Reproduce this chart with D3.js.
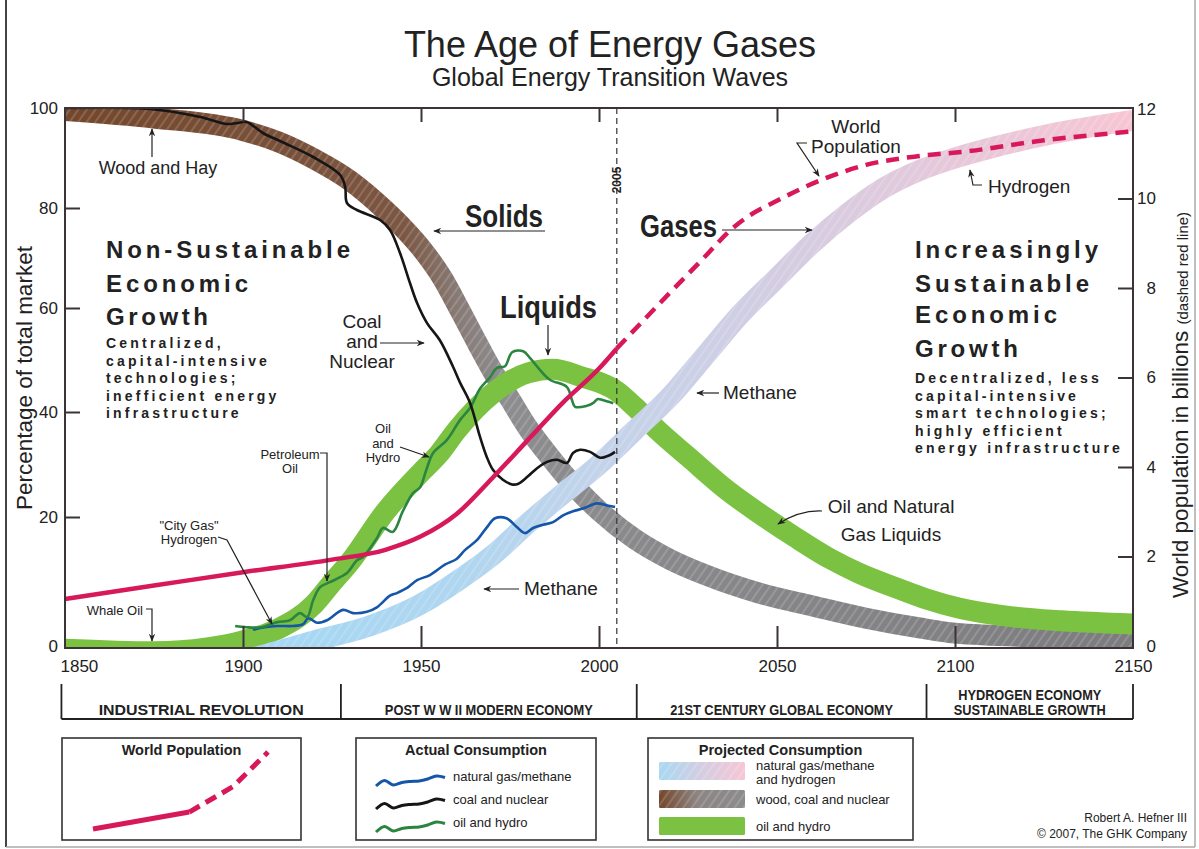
<!DOCTYPE html>
<html>
<head>
<meta charset="utf-8">
<script src="https://cdn.jsdelivr.net/npm/d3@7"></script>
<style>
  body { margin: 0; background: #fff; }
  svg { display: block; font-family: "Liberation Sans", Arial, Helvetica, sans-serif; }
</style>
</head>
<body>
<svg id="chart" width="1199" height="849"></svg>
<script>
// ---- projected consumption bands (share of total market, %) ----
const solidsYears = [1850,1875,1900,1910,1920,1930,1940,1945,1950,1956,1961,1966,1970,1975,1980,1985,1990,1995,2000,2010,2020,2030,2045,2060,2075,2090,2100,2125,2150];
const solidsPct   = [99.5,98,95.5,93.2,89.8,85.5,79.5,76,72,66,59.5,53,48,42.5,37,32.5,28.3,24.5,21.2,16.6,13.4,11,8.2,6.2,4.3,2.8,2,1.4,1.2];

const liquidsYears = [1850,1875,1890,1900,1910,1920,1925,1930,1940,1950,1955,1960,1970,1980,1987,1995,2005,2010,2017,2025,2036,2045,2055,2065,2073,2085,2092,2101,2115,2130,2150];
const liquidsPct   = [-0.5,-0.9,-0.3,0.8,2.7,6.5,9.8,13,21,28.5,32,36.5,43.5,47.5,48.2,46.8,44,41,36.2,31.5,25.1,20.7,16.9,13.5,11.3,8.7,7.3,5.9,4.6,3.9,3.4];

const gasesYears = [1902,1920,1935,1950,1960,1970,1980,1990,2000,2010,2020,2030,2040,2050,2060,2070,2080,2090,2100,2110,2125,2150];
const gasesPct   = [-2,0.8,3,6.5,10,14,19,24.5,30,36.5,43,51,59,66,73,79,84,87.5,90,92,94.5,97.5];

// ---- actual consumption (%) ----
const coalYears = [1850,1874,1888,1895.5,1898.3,1901,1905.6,1911,1919.7,1927.3,1928.7,1929.2,1932,1938.5,1941.3,1944.1,1946.9,1948.9,1951.7,1955.3,1959,1961,1963.8,1966.6,1968.5,1970.2,1973,1975.6,1977.2,1979.8,1982.6,1985.4,1988.2,1991,1992.7,1994.7,1997.5,2000.3,2003.1,2004.5];
const coalPct   = [100,99.8,98.2,96.8,97,97.2,95,93.2,90.2,86.6,84.2,81,79.6,77.6,75.6,71,65,61,57.1,53.8,48.7,45.6,41.7,35.2,31.4,29,27.1,26.2,26.3,27.6,29.3,30.5,30.9,30.3,32.2,32.8,32.4,31.3,31.8,32.4];

const oilYears = [1897.8,1901,1905,1909.6,1913.2,1916,1918,1919.7,1921.6,1924.4,1929.2,1932,1933.7,1937.6,1939.3,1942.1,1944.9,1947.8,1949.7,1951.5,1953.4,1957.3,1961,1963.8,1966.6,1969.4,1971.3,1973.6,1975.6,1978.7,1980.6,1983.4,1986.2,1991,1992.4,1993.3,1996.6,1998.3,1999.7,2001,2004];
const oilPct   = [3.1,2.9,2.9,3.7,4.0,5.1,4.5,7.1,9.1,9.9,11.3,13.3,13.8,16.7,18.3,17.7,21.1,24.6,25.6,29,32.2,34.7,38.5,40.8,44.5,46.7,48.5,48.8,51.5,51.7,50.4,48.1,46.2,44.8,42.3,41,41.2,41.7,42.5,42.3,41.7];

const gasYears = [1902.8,1904.8,1909.6,1914,1916.9,1918.3,1920.8,1923.6,1928.1,1930.9,1934.8,1937.6,1941.3,1943.2,1946.1,1948.9,1952.5,1956.7,1960,1962.4,1965.7,1968.5,1970.8,1974,1977,1979.2,1981.5,1984.3,1987.1,1989.9,1992.7,1995.5,1999.4,2002.2,2004.5];
const gasPct   = [2.5,2.8,3.1,3.1,3.4,4.3,3.6,4.0,5.6,5.1,5.3,6.0,7.8,8.2,9.0,10.2,11,12.6,13.5,14.9,16.4,18.4,19.8,19.8,18.4,17.5,18.3,18.8,19.2,20.3,21.1,21.6,22.6,22.2,21.9];

// ---- world population (billions) ----
const popYears    = [1850,1875,1900,1925,1940,1950,1960,1970,1980,1990,2000,2005];
const popBillions = [1.05,1.35,1.65,1.93,2.15,2.45,2.95,3.75,4.6,5.45,6.2,6.65];
const popProjYears    = [2005,2020,2030,2037,2041,2050,2062,2075,2090,2103,2125,2150];
const popProjBillions = [6.65,7.9,8.72,9.3,9.55,9.95,10.4,10.75,10.95,11.05,11.3,11.5];

// ---- axes, eras, legends ----
const yearTicks = [1850,1900,1950,2000,2050,2100,2150];
const pctTicks = [0,20,40,60,80,100];
const popTicks = [0,2,4,6,8,10,12];
const eraBounds = [1849,1927.5,2010.6,2092,2150];
const eraLabels = [["INDUSTRIAL REVOLUTION"],["POST W W II MODERN ECONOMY"],["21ST CENTURY GLOBAL ECONOMY"],["HYDROGEN ECONOMY","SUSTAINABLE GROWTH"]];
const eraWidths = [[205],[208],[223],[143,152]];
const legendWiggle = [0,0.55,0.1,0.35,0.45,0.5,0.7,1,0.85];
const legendPopSolid = [[0,0],[0.55,0.22]];
const legendPopDashed = [[0.55,0.22],[0.8,0.55],[1,1]];

const svg = d3.select("#chart");
const defs = svg.append("defs");
const plot = {left: 65, right: 1133, top: 108, bottom: 648};
const ink = "#3b3335";

const x = d3.scaleLinear().domain([1850, 2150]).range([plot.left, plot.right]);
const yPct = d3.scaleLinear().domain(pctTicks).range([646, 517, 412, 308, 208, 108]);
const yPop = d3.scaleLinear().domain([0, 12]).range([646, 109]);

const zip = (a, b) => a.map((v, i) => [v, b[i]]);

// gradients + hatch
function hGrad(id, stops, x1 = plot.left, x2 = plot.right) {
    const g = defs.append("linearGradient").attr("id", id)
        .attr("gradientUnits", "userSpaceOnUse")
        .attr("x1", x1).attr("x2", x2).attr("y1", 0).attr("y2", 0);
    stops.forEach(s => g.append("stop").attr("offset", s[0]).attr("stop-color", s[1]));
}
const off = yr => (x(yr) - plot.left) / (plot.right - plot.left);
hGrad("solidsGrad", [[0, "#74472b"], [off(1945), "#7b5642"], [off(1960), "#877a75"], [off(1973), "#8d8c8f"], [1, "#7c7c7f"]]);
hGrad("gasesGrad", [[off(1900), "#a4d8f4"], [off(1960), "#afd6f0"], [off(2000), "#c3d3ea"], [off(2050), "#d3cde2"], [off(2100), "#e6c8da"], [1, "#f7c5d3"]]);
hGrad("legGas", [[0, "#a8d8f2"], [0.5, "#d4cde2"], [1, "#f7c6d4"]], 659, 745);
hGrad("legSolid", [[0, "#74472b"], [0.45, "#8d8584"], [1, "#8b8b8e"]], 659, 745);

const hatch = defs.append("pattern").attr("id", "hatch")
    .attr("patternUnits", "userSpaceOnUse").attr("width", 7).attr("height", 7)
    .attr("patternTransform", "rotate(35)");
hatch.append("line").attr("x1", 1).attr("x2", 1).attr("y1", 0).attr("y2", 7)
    .attr("stroke", "#fff").attr("stroke-width", 0.9).attr("opacity", 0.35);

defs.append("clipPath").attr("id", "plotClip").append("rect")
    .attr("x", plot.left).attr("y", plot.top)
    .attr("width", plot.right - plot.left).attr("height", plot.bottom - plot.top);

const marker = defs.append("marker").attr("id", "arrow")
    .attr("viewBox", "0 0 10 10").attr("refX", 9).attr("refY", 5)
    .attr("markerWidth", 10).attr("markerHeight", 8).attr("markerUnits", "userSpaceOnUse")
    .attr("orient", "auto");
marker.append("path").attr("d", "M0,1 L10,5 L0,9 L3,5 Z").attr("fill", "#222");

// outer frame
svg.append("line").attr("x1", 6).attr("x2", 6).attr("y1", 0).attr("y2", 847).attr("stroke", "#444").attr("stroke-width", 2);
svg.append("line").attr("x1", 6).attr("x2", 1195).attr("y1", 847).attr("y2", 847).attr("stroke", "#aaa").attr("stroke-width", 1.5);
svg.append("line").attr("x1", 1195).attr("x2", 1195).attr("y1", 0).attr("y2", 847).attr("stroke", "#aaa").attr("stroke-width", 1.5);

// titles
svg.append("text").attr("x", 610).attr("y", 57).attr("text-anchor", "middle")
    .attr("font-size", 36).attr("fill", "#222").text("The Age of Energy Gases");
svg.append("text").attr("x", 610).attr("y", 86).attr("text-anchor", "middle")
    .attr("font-size", 25).attr("fill", "#222").text("Global Energy Transition Waves");

// bands
const bandLine = d3.line().x(d => x(d[0])).y(d => yPct(d[1])).curve(d3.curveMonotoneX);
const bands = svg.append("g").attr("clip-path", "url(#plotClip)");
function drawBand(data, paint, hatched) {
    bands.append("path").attr("d", bandLine(data)).attr("fill", "none")
        .attr("stroke", paint).attr("stroke-width", 21);
    if (hatched) {
        bands.append("path").attr("d", bandLine(data)).attr("fill", "none")
            .attr("stroke", "url(#hatch)").attr("stroke-width", 21);
    }
}
drawBand(zip(solidsYears, solidsPct), "url(#solidsGrad)", true);
drawBand(zip(liquidsYears, liquidsPct), "#7cc242", false);
drawBand(zip(gasesYears, gasesPct), "url(#gasesGrad)", true);

// 2005 marker line
svg.append("line").attr("x1", x(2005)).attr("x2", x(2005))
    .attr("y1", plot.top).attr("y2", plot.bottom)
    .attr("stroke", "#333").attr("stroke-width", 1.2).attr("stroke-dasharray", "6,4");
svg.append("text").attr("transform", `translate(${x(2005) + 4},180) rotate(-90)`)
    .attr("text-anchor", "middle").attr("font-size", 12).attr("font-weight", "bold")
    .attr("fill", "#222").text("2005");

// actual consumption lines
const actLine = d3.line().x(d => x(d[0])).y(d => yPct(d[1])).curve(d3.curveCatmullRom.alpha(0.5));
const actual = svg.append("g").attr("clip-path", "url(#plotClip)").attr("fill", "none")
    .attr("stroke-width", 2.6).attr("stroke-linejoin", "round");
actual.append("path").attr("d", actLine(zip(gasYears, gasPct))).attr("stroke", "#1556a8");
actual.append("path").attr("d", actLine(zip(oilYears, oilPct))).attr("stroke", "#2b8540");
actual.append("path").attr("d", actLine(zip(coalYears, coalPct))).attr("stroke", "#161616");

// population
const popLine = d3.line().x(d => x(d[0])).y(d => yPop(d[1])).curve(d3.curveMonotoneX);
svg.append("path").attr("d", popLine(zip(popYears, popBillions)))
    .attr("fill", "none").attr("stroke", "#d7185b").attr("stroke-width", 4.5);
svg.append("path").attr("d", popLine(zip(popProjYears, popProjBillions)))
    .attr("fill", "none").attr("stroke", "#d7185b").attr("stroke-width", 4.5)
    .attr("stroke-dasharray", "13,8");

// plot frame
svg.append("rect").attr("x", plot.left).attr("y", plot.top)
    .attr("width", plot.right - plot.left).attr("height", plot.bottom - plot.top)
    .attr("fill", "none").attr("stroke", ink).attr("stroke-width", 2);

// axes
function styleAxis(g) {
    g.select(".domain").remove();
    g.selectAll("line").attr("stroke", ink).attr("stroke-width", 2);
    g.selectAll("text").attr("font-size", 17).attr("fill", "#222")
        .attr("font-family", '"Liberation Sans", Arial, sans-serif');
}
svg.append("g").attr("transform", `translate(0,${plot.bottom})`)
    .call(d3.axisBottom(x).tickValues(yearTicks.slice(1, -1)).tickSize(-22).tickFormat(""))
    .call(styleAxis);
svg.append("g").attr("transform", `translate(0,${plot.top})`)
    .call(d3.axisTop(x).tickValues(yearTicks.slice(1, -1)).tickSize(-14).tickFormat(""))
    .call(styleAxis);
svg.append("g").attr("transform", `translate(0,${plot.bottom})`)
    .call(d3.axisBottom(x).tickValues(yearTicks).tickSize(0).tickPadding(12).tickFormat(d3.format("d")))
    .call(styleAxis)
    .call(g => g.selectAll(".tick").filter(d => d === 1850).select("text").attr("text-anchor", "start").attr("dx", -5));
svg.append("g").attr("transform", `translate(${plot.left},0)`)
    .call(d3.axisLeft(yPct).tickValues(pctTicks).tickSize(-15).tickPadding(7))
    .call(styleAxis)
    .call(g => g.selectAll(".tick").filter(d => d === 0 || d === 100).select("line").remove());
svg.append("g").attr("transform", `translate(${plot.right},0)`)
    .call(d3.axisRight(yPop).tickValues(popTicks).tickSize(-15).tickPadding(23))
    .call(styleAxis)
    .call(g => g.selectAll("text").attr("text-anchor", "end"))
    .call(g => g.selectAll(".tick").filter(d => d === 0 || d === 12).select("line").remove());

// axis titles
svg.append("text").attr("transform", "translate(32,510) rotate(-90)")
    .attr("font-size", 22.5).attr("fill", "#222").text("Percentage of total market");
const rt = svg.append("text").attr("transform", "translate(1188,598) rotate(-90)")
    .attr("font-size", 22.5).attr("fill", "#222");
rt.append("tspan").text("World population in billions ");
rt.append("tspan").attr("font-size", 15).text("(dashed red line)");

// era bar
const era = svg.append("g").attr("stroke", "#222").attr("stroke-width", 1.8);
era.append("line").attr("x1", x(eraBounds[0])).attr("x2", x(eraBounds[eraBounds.length - 1]))
    .attr("y1", 719).attr("y2", 719);
eraBounds.forEach(b => era.append("line").attr("x1", x(b)).attr("x2", x(b)).attr("y1", 684).attr("y2", 719));
eraLabels.forEach((lines, i) => {
    const cx = (x(eraBounds[i]) + x(eraBounds[i + 1])) / 2;
    lines.forEach((t, j) => {
        svg.append("text").attr("x", cx).attr("y", 715 - (lines.length - 1 - j) * 15)
            .attr("text-anchor", "middle").attr("font-size", 15).attr("font-weight", "bold")
            .attr("fill", "#222").attr("textLength", eraWidths[i][j])
            .attr("lengthAdjust", "spacingAndGlyphs").text(t);
    });
});

// annotations
const ann = svg.append("g").attr("fill", "#222");
function label(lines, xx, y0, size, anchor, lh) {
    lines.forEach((t, i) => ann.append("text").attr("x", xx).attr("y", y0 + i * lh)
        .attr("font-size", size).attr("text-anchor", anchor).text(t));
}
function arrow(pts) {
    svg.append("path").attr("d", d3.line()(pts)).attr("fill", "none")
        .attr("stroke", "#222").attr("stroke-width", 1.2).attr("marker-end", "url(#arrow)");
}
label(["Wood and Hay"], 158, 174, 18, "middle", 0);
arrow([[152, 157], [152, 129]]);

function headline(t, xx, yy, w) {
    ann.append("text").attr("x", xx).attr("y", yy).attr("font-size", 31).attr("font-weight", "bold")
        .attr("textLength", w).attr("lengthAdjust", "spacingAndGlyphs").text(t);
}
headline("Solids", 465, 227, 78);
arrow([[545, 231], [434, 231]]);
headline("Gases", 640, 237, 77);
arrow([[722, 230], [812, 230]]);
headline("Liquids", 500, 318, 97);
arrow([[548, 325], [548, 355]]);

label(["Coal", "and", "Nuclear"], 362, 328, 19, "middle", 20);
arrow([[380, 343], [424, 343]]);
label(["Oil", "and", "Hydro"], 383, 433, 13, "middle", 14.5);
arrow([[400, 447], [429, 457]]);
label(["Petroleum", "Oil"], 290, 459, 13, "middle", 14);
arrow([[320, 453], [327, 453], [327, 581]]);
label(['"City Gas"', "Hydrogen"], 189, 530, 13, "middle", 13.5);
arrow([[218, 537], [227, 540], [272, 624]]);
label(["Whale Oil"], 143, 615, 13, "end", 0);
arrow([[146, 609], [152, 609], [152, 641]]);
label(["Methane"], 524, 595, 19, "start", 0);
arrow([[519, 589], [484, 589]]);
label(["Methane"], 723, 399, 19, "start", 0);
arrow([[719, 393], [697, 393]]);
label(["Oil and Natural", "Gas Liquids"], 891, 513, 19, "middle", 28);
svg.append("path").attr("d", "M822,511 Q800,510 778,524").attr("fill", "none")
    .attr("stroke", "#222").attr("stroke-width", 1.2).attr("marker-end", "url(#arrow)");
label(["World", "Population"], 856, 133, 19, "middle", 20);
arrow([[807, 143], [797, 143], [819, 176]]);
label(["Hydrogen"], 988, 193, 19, "start", 0);
arrow([[982, 185], [973, 185], [970, 170]]);

// growth blocks
function bigBlock(xx, lines, bases, widths) {
    lines.forEach((t, i) => ann.append("text").attr("x", xx).attr("y", bases[i])
        .attr("font-size", 24).attr("font-weight", "bold").attr("textLength", widths[i])
        .attr("lengthAdjust", "spacing").text(t));
}
function smallBlock(xx, lines, y0) {
    lines.forEach((t, i) => ann.append("text").attr("x", xx).attr("y", y0 + i * 17.5)
        .attr("font-size", 14).attr("font-weight", "bold").attr("letter-spacing", 3.2).text(t));
}
bigBlock(106, ["Non-Sustainable", "Economic", "Growth"], [258, 292, 325], [244, 142, 102]);
smallBlock(106, ["Centralized,", "capital-intensive", "technologies;", "inefficient energy", "infrastructure"], 348);
bigBlock(915, ["Increasingly", "Sustainable", "Economic", "Growth"], [258, 292, 323, 357], [183, 174, 142, 103]);
smallBlock(915, ["Decentralized, less", "capital-intensive", "smart technologies;", "highly efficient", "energy infrastructure"], 383);

// legends
const boxes = [[62, 301, "World Population"], [356, 596, "Actual Consumption"], [648, 913, "Projected Consumption"]];
boxes.forEach(b => {
    svg.append("rect").attr("x", b[0]).attr("y", 738).attr("width", b[1] - b[0]).attr("height", 102)
        .attr("fill", "#fff").attr("stroke", "#333").attr("stroke-width", 1.6);
    svg.append("text").attr("x", (b[0] + b[1]) / 2).attr("y", 755).attr("text-anchor", "middle")
        .attr("font-size", 14.5).attr("font-weight", "bold").attr("fill", "#222").text(b[2]);
});

// world population sample
const lpx = d3.scaleLinear().domain([0, 1]).range([93, 268]);
const lpy = d3.scaleLinear().domain([0, 1]).range([829, 752]);
const lpLine = d3.line().x(d => lpx(d[0])).y(d => lpy(d[1]));
svg.append("path").attr("d", lpLine(legendPopSolid)).attr("fill", "none")
    .attr("stroke", "#d7185b").attr("stroke-width", 5);
svg.append("path").attr("d", lpLine(legendPopDashed)).attr("fill", "none")
    .attr("stroke", "#d7185b").attr("stroke-width", 5).attr("stroke-dasharray", "12,7");

// actual consumption samples
const wx = d3.scaleLinear().domain([0, legendWiggle.length - 1]).range([376, 445]);
const actualLegend = [["#1556a8", "natural gas/methane"], ["#161616", "coal and nuclear"], ["#2b8540", "oil and hydro"]];
actualLegend.forEach((a, i) => {
    const base = 786 + i * 23;
    const wy = d3.scaleLinear().domain([0, 1]).range([base, base - 10]);
    svg.append("path").attr("d", d3.line().x((d, k) => wx(k)).y(d => wy(d)).curve(d3.curveCatmullRom)(legendWiggle))
        .attr("fill", "none").attr("stroke", a[0]).attr("stroke-width", 3);
    svg.append("text").attr("x", 453).attr("y", base - 5).attr("font-size", 13).attr("fill", "#222").text(a[1]);
});

// projected consumption samples
const projLegend = [["url(#legGas)", 762, ["natural gas/methane", "and hydrogen"]], ["url(#legSolid)", 790, ["wood, coal and nuclear"]], ["#7cc242", 817, ["oil and hydro"]]];
projLegend.forEach(p => {
    svg.append("rect").attr("x", 659).attr("y", p[1]).attr("width", 86).attr("height", 18).attr("rx", 1.5).attr("fill", p[0]);
    if (p[0] !== "#7cc242") {
        svg.append("rect").attr("x", 659).attr("y", p[1]).attr("width", 86).attr("height", 18).attr("fill", "url(#hatch)");
    }
    p[2].forEach((t, j) => svg.append("text").attr("x", 756)
        .attr("y", p[2].length > 1 ? p[1] + 8 + j * 14 : p[1] + 14)
        .attr("font-size", 13).attr("fill", "#222").text(t));
});

// credit
svg.append("text").attr("x", 1187).attr("y", 822).attr("text-anchor", "end")
    .attr("font-size", 12).attr("fill", "#222").text("Robert A. Hefner III");
svg.append("text").attr("x", 1187).attr("y", 838).attr("text-anchor", "end")
    .attr("font-size", 12).attr("fill", "#222").text("\u00A9 2007, The GHK Company");
</script>
</body>
</html>
